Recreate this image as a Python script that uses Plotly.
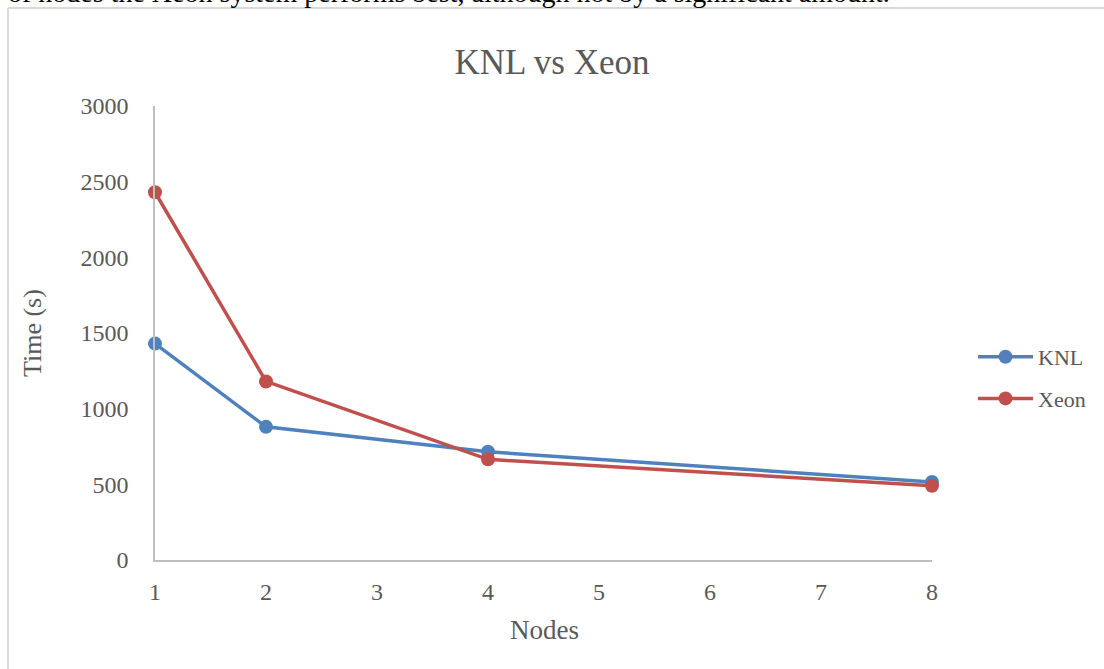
import plotly.graph_objects as go

nodes = [1, 2, 4, 8]
knl = [1430, 880, 715, 515]
xeon = [2430, 1180, 665, 490]
x_ticks = [1, 2, 3, 4, 5, 6, 7, 8]
y_ticks = [0, 500, 1000, 1500, 2000, 2500, 3000]

W, H = 1104, 669
L, R, T, B = 155, 932, 106, 560
pw, ph = R - L, B - T

def px(x):
    return (x - L) / pw

def py(y):
    return (B - y) / ph

GRAY = "#595959"
FONT = "Liberation Serif"

fig = go.Figure()
fig.add_trace(go.Scatter(x=nodes, y=knl, name="KNL", mode="lines+markers",
                         line=dict(color="#4f81bd", width=3.5),
                         marker=dict(size=14, color="#4f81bd"),
                         cliponaxis=False, legendgroup="a"))
fig.add_trace(go.Scatter(x=nodes, y=xeon, name="Xeon", mode="lines+markers",
                         line=dict(color="#c0504d", width=3.5),
                         marker=dict(size=14, color="#c0504d"),
                         cliponaxis=False, legendgroup="b"))

fig.update_layout(
    width=W, height=H,
    margin=dict(l=L, r=W - R, t=T, b=H - B, pad=0),
    paper_bgcolor="white", plot_bgcolor="white",
    font=dict(family=FONT, color=GRAY),
    title=dict(text="KNL vs Xeon", x=552 / W, xref="container", xanchor="center",
               y=1 - 62 / H, yref="container", yanchor="middle",
               font=dict(size=35, color=GRAY, family=FONT)),
    xaxis=dict(range=[1, 8], tickvals=x_ticks, showgrid=False, zeroline=False,
               showline=True, linecolor="#bfbfbf", linewidth=1.5,
               ticks="", ticklabelstandoff=9,
               tickfont=dict(size=24, color=GRAY, family=FONT)),
    yaxis=dict(range=[0, 3000], tickvals=y_ticks, showgrid=False, zeroline=False,
               showline=True, linecolor="#bfbfbf", linewidth=1.5,
               ticks="", ticklabelstandoff=20,
               tickfont=dict(size=24, color=GRAY, family=FONT)),
    legend=dict(x=px(973), y=py(336), xanchor="left", yanchor="top",
                font=dict(size=22, color=GRAY, family=FONT),
                tracegroupgap=10, itemwidth=55, bgcolor="rgba(0,0,0,0)"),
    annotations=[
        dict(text="Nodes", x=px(544), y=py(630), xref="paper", yref="paper",
             showarrow=False, xanchor="center", yanchor="middle",
             font=dict(size=27, color=GRAY, family=FONT)),
        dict(text="Time (s)", x=px(32), y=py(333), xref="paper", yref="paper",
             showarrow=False, xanchor="center", yanchor="middle", textangle=-90,
             font=dict(size=26, color=GRAY, family=FONT)),
        dict(text="of nodes the Xeon system performs best, although not by a significant amount.",
             x=px(6), y=py(10), xref="paper", yref="paper",
             showarrow=False, xanchor="left", yanchor="bottom",
             font=dict(size=28, color="black", family=FONT)),
    ],
    shapes=[
        dict(type="line", xref="paper", yref="paper", x0=px(8), x1=px(8),
             y0=py(8), y1=py(680), line=dict(color="#d9d9d9", width=2)),
        dict(type="line", xref="paper", yref="paper", x0=px(8), x1=px(1110),
             y0=py(8), y1=py(8), line=dict(color="#d9d9d9", width=2)),
    ],
)

fig.write_html("out.html", config={"displayModeBar": False},
               post_script="document.body.style.margin='0';document.body.style.overflow='hidden';")
